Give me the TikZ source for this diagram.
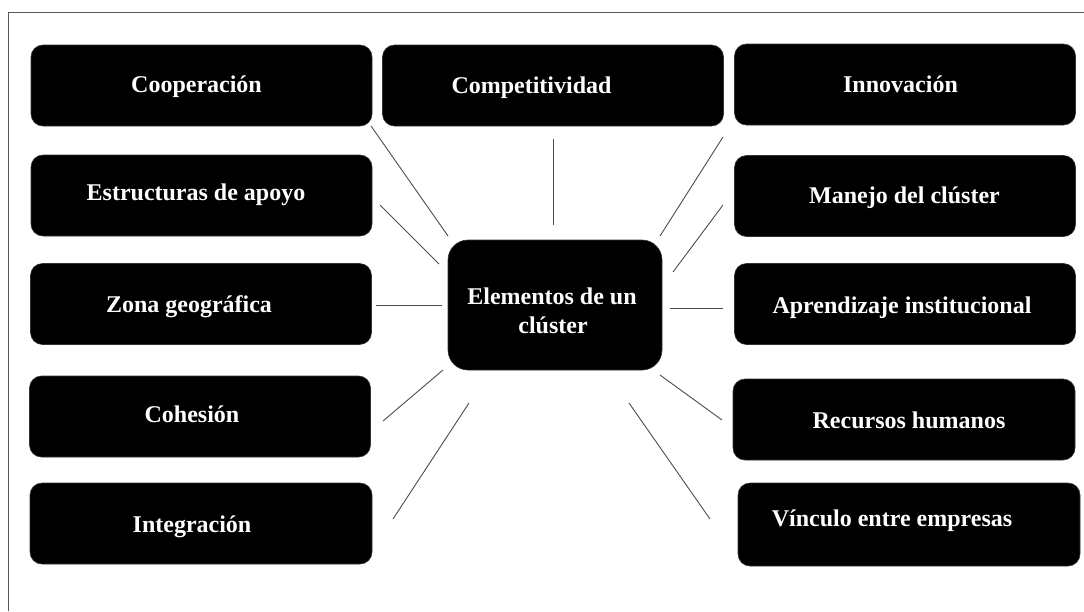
\documentclass[tikz,border=0pt]{standalone}
\usepackage{fontspec}
\setmainfont{Liberation Serif}
\begin{document}
\begin{tikzpicture}[x=1pt,y=-1pt,
  box/.style={fill=black,draw=black!80,line width=0.6pt,rounded corners=12pt,minimum width=341pt,minimum height=81pt,inner sep=0pt},
  hub/.style={fill=black,draw=black!80,line width=0.6pt,rounded corners=20pt,minimum width=214pt,minimum height=130pt,inner sep=0pt},
  lbl/.style={text=white,font=\bfseries\fontsize{24pt}{29pt}\selectfont,anchor=base,inner sep=0pt},
  link/.style={draw=black!70,line width=0.9pt},
  frame/.style={draw=black!65,line width=1pt}]
\useasboundingbox (0,0) rectangle (1084,611);
\coordinate (fa) at (8,611);
\coordinate (fb) at (8,12);
\coordinate (fc) at (1084,12);
\draw[frame] (fa) -- (fb) -- (fc);
% boxes
\node[box] (coop) at (201.5,85.5) {};
\node[box] (comp) at (553,85.5) {};
\node[box] (innov) at (905,84.5) {};
\node[box] (estr) at (201.5,195.5) {};
\node[box] (manejo) at (905,196) {};
\node[box] (zona) at (201,304) {};
\node[box] (aprend) at (905,304) {};
\node[box] (cohes) at (200,416.5) {};
\node[box,minimum width=342pt] (recur) at (904,419.5) {};
\node[box,minimum width=342pt] (integ) at (201,523.5) {};
\node[box,minimum width=342pt,minimum height=83pt] (vinc) at (909,524.5) {};
\node[hub] (hub) at (555,305) {};
% labels
\node[lbl] (tcoop) at (196.5,92) {Cooperación};
\node[lbl] (tcomp) at (531.5,93) {Competitividad};
\node[lbl] (tinnov) at (900.5,92) {Innovación};
\node[lbl] (testr) at (196,200) {Estructuras de apoyo};
\node[lbl] (tmanejo) at (904.5,203) {Manejo del clúster};
\node[lbl] (tzona) at (189,312) {Zona geográfica};
\node[lbl] (taprend) at (902,313) {Aprendizaje institucional};
\node[lbl] (tcohes) at (192,422) {Cohesión};
\node[lbl] (trecur) at (909,428) {Recursos humanos};
\node[lbl] (tinteg) at (192,532) {Integración};
\node[lbl] (tvinc) at (892,526) {Vínculo entre empresas};
\node[lbl] (thub1) at (552,304) {Elementos de un};
\node[lbl] (thub2) at (553,333) {clúster};
% connector end points
\coordinate (c1a) at (371,126); \coordinate (c1b) at (448,236);
\coordinate (c2a) at (380,205); \coordinate (c2b) at (439,264);
\coordinate (c3a) at (376,305); \coordinate (c3b) at (442,305);
\coordinate (c4a) at (383,421); \coordinate (c4b) at (443,370);
\coordinate (c5a) at (393,519); \coordinate (c5b) at (469,403);
\coordinate (c6a) at (553,139); \coordinate (c6b) at (553,225);
\coordinate (c7a) at (723,137); \coordinate (c7b) at (660,236);
\coordinate (c8a) at (723,205); \coordinate (c8b) at (673,272);
\coordinate (c9a) at (670,308); \coordinate (c9b) at (723,308);
\coordinate (c10a) at (660,375); \coordinate (c10b) at (722,420);
\coordinate (c11a) at (629,403); \coordinate (c11b) at (710,519);
\draw[link] (c1a) -- (c1b);
\draw[link] (c2a) -- (c2b);
\draw[link] (c3a) -- (c3b);
\draw[link] (c4a) -- (c4b);
\draw[link] (c5a) -- (c5b);
\draw[link] (c6a) -- (c6b);
\draw[link] (c7a) -- (c7b);
\draw[link] (c8a) -- (c8b);
\draw[link] (c9a) -- (c9b);
\draw[link] (c10a) -- (c10b);
\draw[link] (c11a) -- (c11b);
\end{tikzpicture}
\end{document}
